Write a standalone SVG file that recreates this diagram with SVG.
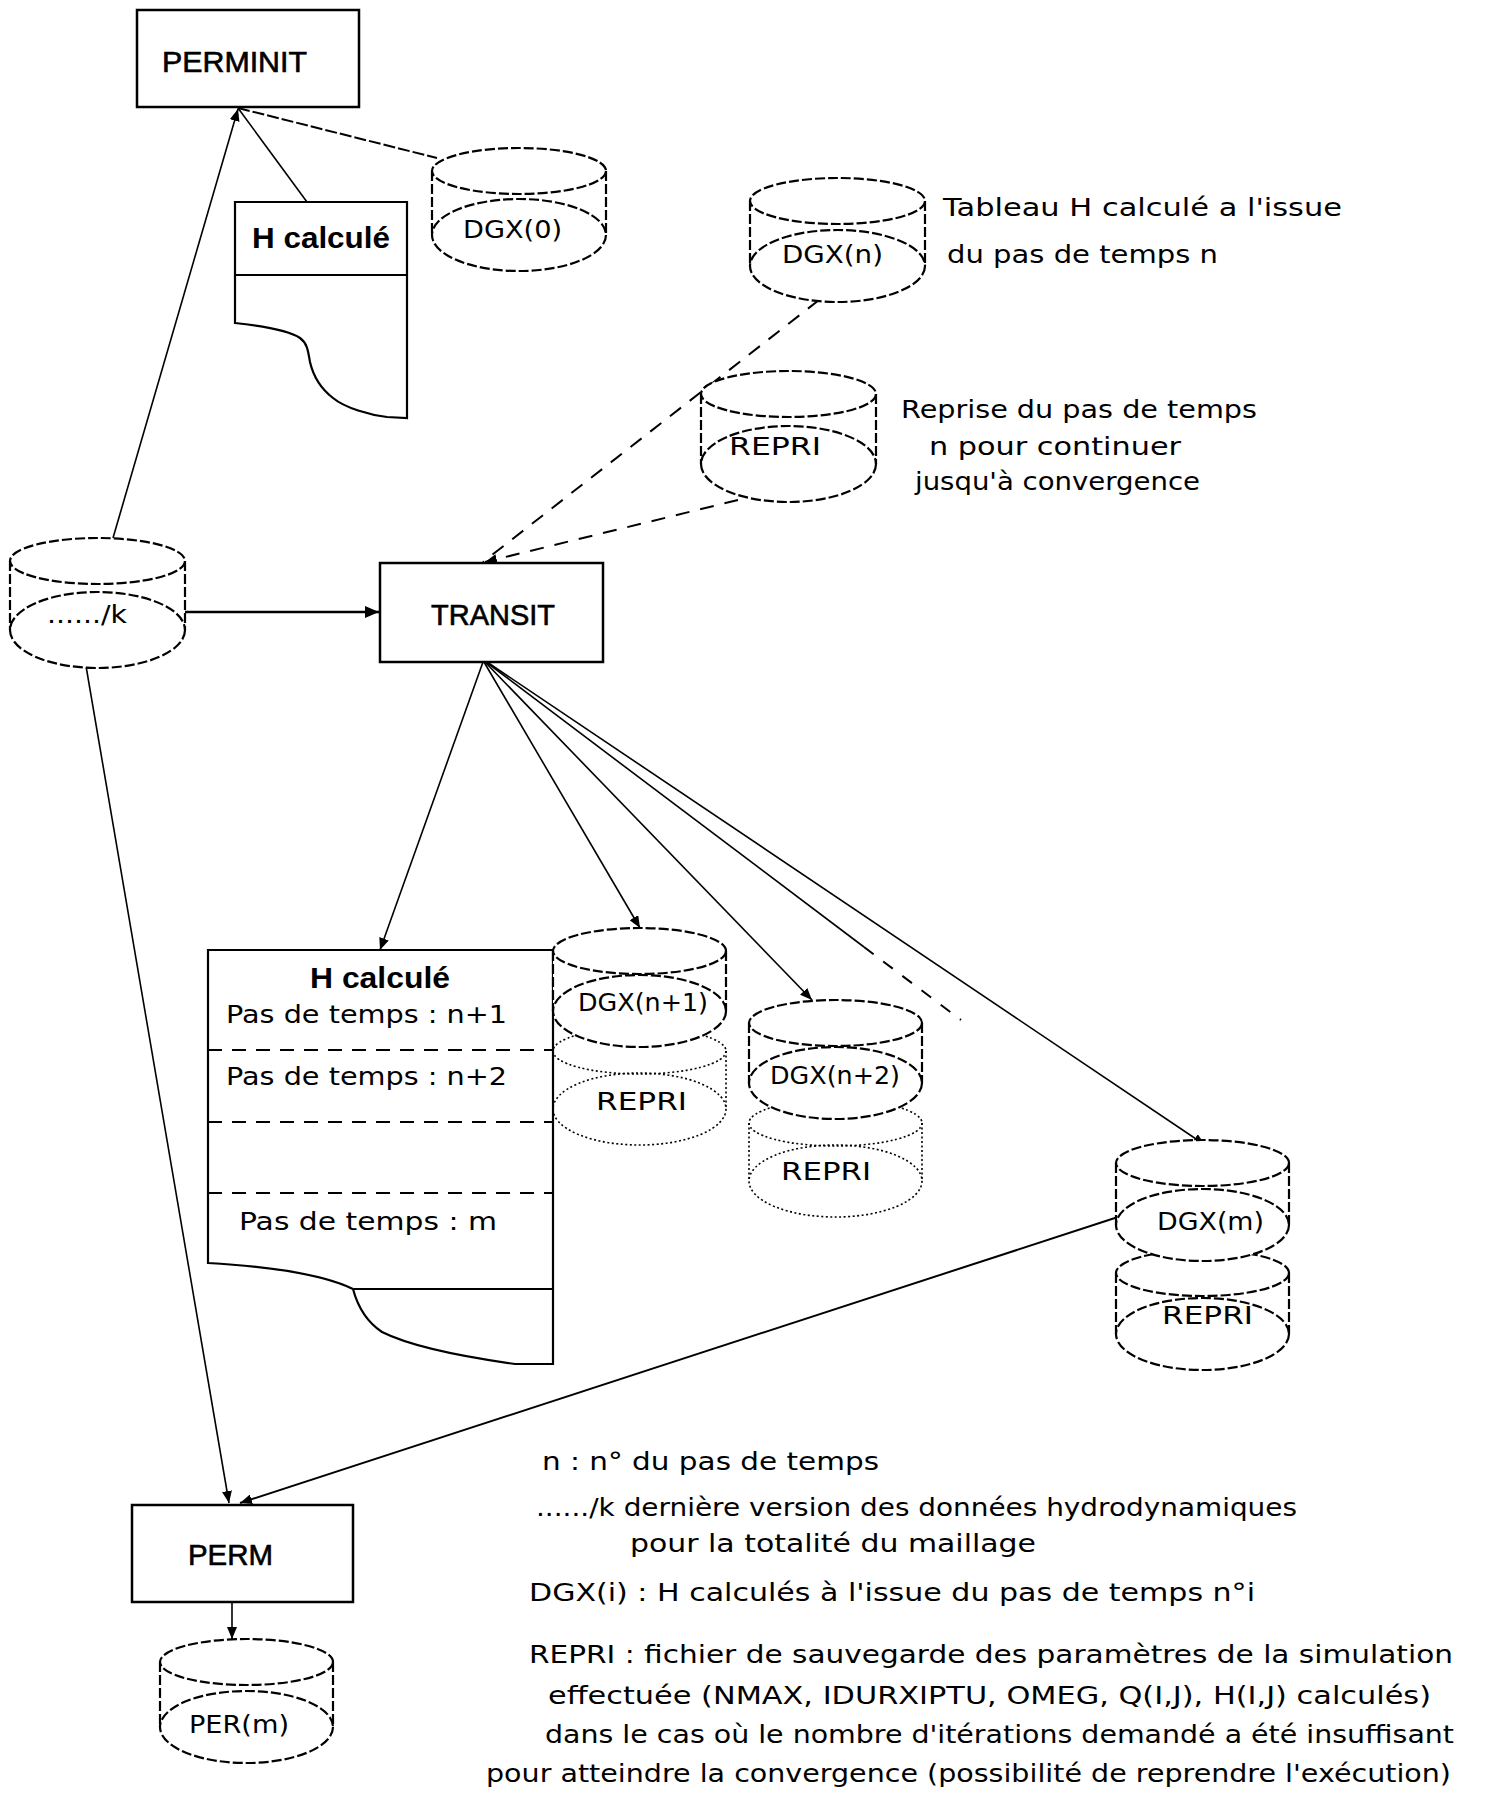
<svg xmlns="http://www.w3.org/2000/svg" width="1504" height="1812" viewBox="0 0 1504 1812">
<style>
  .bg{fill:#ffffff}
  .box{fill:#ffffff;stroke:#000;stroke-width:2.5}
  .doc{fill:#ffffff;stroke:#000;stroke-width:2.2}
  .sep{fill:none;stroke:#000;stroke-width:2;stroke-dasharray:14 10}
  .cyl{fill:none;stroke:#000;stroke-width:2.2;stroke-dasharray:10 3}
  .cyldot{fill:none;stroke:#000;stroke-width:1.6;stroke-dasharray:2 2.5}
  .cylfill{fill:#ffffff;stroke:none}
  .ln{fill:none;stroke:#000;stroke-width:1.6}
  .lnb{fill:none;stroke:#000;stroke-width:2.6}
  .dash{fill:none;stroke:#000;stroke-width:2;stroke-dasharray:14 11}
  .t{font-family:"DejaVu Sans","Liberation Sans",sans-serif;font-size:25px;fill:#000}
  .tb{font-family:"Liberation Sans","DejaVu Sans",sans-serif;font-size:29px;font-weight:bold;fill:#000}
  .tbox{font-family:"Liberation Sans","DejaVu Sans",sans-serif;font-size:29px;fill:#000;stroke:#000;stroke-width:0.6}
</style>
<defs>
  <marker id="arr" viewBox="0 0 12 10" refX="12" refY="5" markerWidth="12" markerHeight="10" markerUnits="userSpaceOnUse" orient="auto">
    <path d="M0,0 L12,5 L0,10 z" fill="#000"/>
  </marker>
  <marker id="arrb" viewBox="0 0 14 12" refX="14" refY="6" markerWidth="14" markerHeight="12" markerUnits="userSpaceOnUse" orient="auto">
    <path d="M0,0 L14,6 L0,12 z" fill="#000"/>
  </marker>
</defs>
<rect class="bg" x="0" y="0" width="1504" height="1812"/>

<g id="connectors">
  <line class="ln" x1="113" y1="538" x2="238" y2="109" marker-end="url(#arr)"/>
  <line class="ln" x1="238" y1="108" x2="307" y2="202"/>
  <line class="dash" x1="238" y1="108" x2="437" y2="158" style="stroke-dasharray:12 3"/>
  <line class="dash" x1="819" y1="300" x2="483" y2="562"/>
  <line class="dash" x1="738" y1="500" x2="485" y2="562" marker-end="url(#arr)"/>
  <line class="lnb" x1="185" y1="612" x2="379" y2="612" marker-end="url(#arrb)"/>
  <line class="ln" x1="86" y1="666" x2="229" y2="1503" marker-end="url(#arr)"/>
  <line class="ln" x1="483" y1="662" x2="380" y2="950" marker-end="url(#arr)"/>
  <line class="ln" x1="484" y1="662" x2="640" y2="928" marker-end="url(#arr)"/>
  <line class="ln" x1="485" y1="662" x2="812" y2="1000" marker-end="url(#arr)"/>
  <line class="ln" x1="486" y1="662" x2="864" y2="947"/>
  <line class="dash" x1="864" y1="947" x2="961" y2="1020" style="stroke-dasharray:12 12"/>
  <line class="ln" x1="487" y1="662" x2="1205" y2="1145" marker-end="url(#arr)"/>
  <line class="lnb" x1="1118" y1="1217" x2="240" y2="1503" marker-end="url(#arr)" style="stroke-width:2"/>
  <line class="ln" x1="232" y1="1602" x2="232" y2="1639" marker-end="url(#arr)"/>
</g>

<g id="perminit">
  <rect class="box" x="137" y="10" width="222" height="97"/>
  <text class="tbox" x="162" y="72" textLength="145" lengthAdjust="spacingAndGlyphs">PERMINIT</text>
</g>

<g id="hcalc-top">
  <path class="doc" d="M235,202 L407,202 L407,418 L387,417 C370,415 345,408 333,398 C320,388 313,375 310,362 C308,350 307,343 300,338 C290,331 262,326 235,323 Z"/>
  <line class="doc" x1="235" y1="275" x2="407" y2="275"/>
  <text class="tb" x="252" y="248" textLength="138" lengthAdjust="spacingAndGlyphs">H calculé</text>
</g>

<g id="dgx0">
  <path class="cylfill" d="M432,171 A87,23 0 0 1 606,171 L606,235 A87,36 0 0 1 432,235 Z"/>
  <ellipse class="cyl" cx="519" cy="171" rx="87" ry="23"/>
  <ellipse class="cyl" cx="519" cy="235" rx="87" ry="36"/>
  <line class="cyl" x1="432" y1="171" x2="432" y2="235"/>
  <line class="cyl" x1="606" y1="171" x2="606" y2="235"/>
  <text class="t" x="463" y="238" textLength="99" lengthAdjust="spacingAndGlyphs">DGX(0)</text>
</g>

<g id="dgxn">
  <path class="cylfill" d="M750,201 A87.5,23 0 0 1 925,201 L925,266 A87.5,36 0 0 1 750,266 Z"/>
  <ellipse class="cyl" cx="837.5" cy="201" rx="87.5" ry="23"/>
  <ellipse class="cyl" cx="837.5" cy="266" rx="87.5" ry="36"/>
  <line class="cyl" x1="750" y1="201" x2="750" y2="266"/>
  <line class="cyl" x1="925" y1="201" x2="925" y2="266"/>
  <text class="t" x="782" y="263" textLength="101" lengthAdjust="spacingAndGlyphs">DGX(n)</text>
</g>

<g id="note-dgxn">
  <text class="t" x="943" y="216" textLength="399" lengthAdjust="spacingAndGlyphs">Tableau H calculé a l'issue</text>
  <text class="t" x="947" y="263" textLength="271" lengthAdjust="spacingAndGlyphs">du pas de temps n</text>
</g>

<g id="repri-top">
  <path class="cylfill" d="M701,394 A87.5,23 0 0 1 876,394 L876,464 A87.5,38 0 0 1 701,464 Z"/>
  <ellipse class="cyl" cx="788.5" cy="394" rx="87.5" ry="23"/>
  <ellipse class="cyl" cx="788.5" cy="464" rx="87.5" ry="38"/>
  <line class="cyl" x1="701" y1="394" x2="701" y2="464"/>
  <line class="cyl" x1="876" y1="394" x2="876" y2="464"/>
  <text class="t" x="729" y="455" textLength="92" lengthAdjust="spacingAndGlyphs">REPRI</text>
</g>

<g id="note-repri">
  <text class="t" x="901" y="418" textLength="356" lengthAdjust="spacingAndGlyphs">Reprise du pas de temps</text>
  <text class="t" x="929" y="455" textLength="252" lengthAdjust="spacingAndGlyphs">n pour continuer</text>
  <text class="t" x="915" y="490" textLength="285" lengthAdjust="spacingAndGlyphs">jusqu'à convergence</text>
</g>

<g id="k">
  <path class="cylfill" d="M10,561 A87.5,23 0 0 1 185,561 L185,630 A87.5,38 0 0 1 10,630 Z"/>
  <ellipse class="cyl" cx="97.5" cy="561" rx="87.5" ry="23"/>
  <ellipse class="cyl" cx="97.5" cy="630" rx="87.5" ry="38"/>
  <line class="cyl" x1="10" y1="561" x2="10" y2="630"/>
  <line class="cyl" x1="185" y1="561" x2="185" y2="630"/>
  <text class="t" x="47" y="623" textLength="80" lengthAdjust="spacingAndGlyphs">....../k</text>
</g>

<g id="transit">
  <rect class="box" x="380" y="563" width="223" height="99"/>
  <text class="tbox" x="431" y="625" textLength="124" lengthAdjust="spacingAndGlyphs">TRANSIT</text>
</g>

<g id="hcalc-big">
  <path class="doc" d="M208,950 L553,950 L553,1364 L515,1364 C465,1357 412,1347 382,1332 C364,1320 357,1304 353,1289 C320,1273 260,1266 208,1263 Z"/>
  <line class="doc" x1="353" y1="1289" x2="553" y2="1289"/>
  <line class="sep" x1="208" y1="1050" x2="553" y2="1050"/>
  <line class="sep" x1="208" y1="1122" x2="553" y2="1122"/>
  <line class="sep" x1="208" y1="1193" x2="553" y2="1193"/>
  <text class="tb" x="310" y="988" textLength="140" lengthAdjust="spacingAndGlyphs">H calculé</text>
  <text class="t" x="226" y="1023" textLength="281" lengthAdjust="spacingAndGlyphs">Pas de temps : n+1</text>
  <text class="t" x="226" y="1085" textLength="281" lengthAdjust="spacingAndGlyphs">Pas de temps : n+2</text>
  <text class="t" x="239" y="1230" textLength="258" lengthAdjust="spacingAndGlyphs">Pas de temps : m</text>
</g>

<g id="repri-n1">
  <ellipse class="cyldot" cx="639.5" cy="1051" rx="86.5" ry="23"/>
  <ellipse class="cyldot" cx="639.5" cy="1109" rx="86.5" ry="36"/>
  <line class="cyldot" x1="553" y1="1051" x2="553" y2="1109"/>
  <line class="cyldot" x1="726" y1="1051" x2="726" y2="1109"/>
  <text class="t" x="596" y="1110" textLength="91" lengthAdjust="spacingAndGlyphs">REPRI</text>
</g>

<g id="dgx-n1">
  <path class="cylfill" d="M553,951 A86.5,23 0 0 1 726,951 L726,1011 A86.5,36 0 0 1 553,1011 Z"/>
  <ellipse class="cyl" cx="639.5" cy="951" rx="86.5" ry="23"/>
  <ellipse class="cyl" cx="639.5" cy="1011" rx="86.5" ry="36"/>
  <line class="cyl" x1="553" y1="951" x2="553" y2="1011"/>
  <line class="cyl" x1="726" y1="951" x2="726" y2="1011"/>
  <text class="t" x="578" y="1011" textLength="130" lengthAdjust="spacingAndGlyphs">DGX(n+1)</text>
</g>

<g id="repri-n2">
  <ellipse class="cyldot" cx="835.5" cy="1123" rx="86.5" ry="23"/>
  <ellipse class="cyldot" cx="835.5" cy="1181" rx="86.5" ry="36"/>
  <line class="cyldot" x1="749" y1="1123" x2="749" y2="1181"/>
  <line class="cyldot" x1="922" y1="1123" x2="922" y2="1181"/>
  <text class="t" x="781" y="1180" textLength="90" lengthAdjust="spacingAndGlyphs">REPRI</text>
</g>

<g id="dgx-n2">
  <path class="cylfill" d="M749,1023 A86.5,23 0 0 1 922,1023 L922,1083 A86.5,36 0 0 1 749,1083 Z"/>
  <ellipse class="cyl" cx="835.5" cy="1023" rx="86.5" ry="23"/>
  <ellipse class="cyl" cx="835.5" cy="1083" rx="86.5" ry="36"/>
  <line class="cyl" x1="749" y1="1023" x2="749" y2="1083"/>
  <line class="cyl" x1="922" y1="1023" x2="922" y2="1083"/>
  <text class="t" x="770" y="1084" textLength="130" lengthAdjust="spacingAndGlyphs">DGX(n+2)</text>
</g>

<g id="repri-m">
  <path class="cylfill" d="M1116,1273 A86.5,23 0 0 1 1289,1273 L1289,1334 A86.5,36 0 0 1 1116,1334 Z"/>
  <ellipse class="cyl" cx="1202.5" cy="1273" rx="86.5" ry="23"/>
  <ellipse class="cyl" cx="1202.5" cy="1334" rx="86.5" ry="36"/>
  <line class="cyl" x1="1116" y1="1273" x2="1116" y2="1334"/>
  <line class="cyl" x1="1289" y1="1273" x2="1289" y2="1334"/>
  <text class="t" x="1162" y="1324" textLength="91" lengthAdjust="spacingAndGlyphs">REPRI</text>
</g>

<g id="dgx-m">
  <path class="cylfill" d="M1116,1163 A86.5,23 0 0 1 1289,1163 L1289,1225 A86.5,36 0 0 1 1116,1225 Z"/>
  <ellipse class="cyl" cx="1202.5" cy="1163" rx="86.5" ry="23"/>
  <ellipse class="cyl" cx="1202.5" cy="1225" rx="86.5" ry="36"/>
  <line class="cyl" x1="1116" y1="1163" x2="1116" y2="1225"/>
  <line class="cyl" x1="1289" y1="1163" x2="1289" y2="1225"/>
  <text class="t" x="1157" y="1230" textLength="107" lengthAdjust="spacingAndGlyphs">DGX(m)</text>
</g>

<g id="perm">
  <rect class="box" x="132" y="1505" width="221" height="97"/>
  <text class="tbox" x="188" y="1565" textLength="85" lengthAdjust="spacingAndGlyphs">PERM</text>
</g>

<g id="per-m">
  <path class="cylfill" d="M160,1662 A86.5,23 0 0 1 333,1662 L333,1727 A86.5,36 0 0 1 160,1727 Z"/>
  <ellipse class="cyl" cx="246.5" cy="1662" rx="86.5" ry="23"/>
  <ellipse class="cyl" cx="246.5" cy="1727" rx="86.5" ry="36"/>
  <line class="cyl" x1="160" y1="1662" x2="160" y2="1727"/>
  <line class="cyl" x1="333" y1="1662" x2="333" y2="1727"/>
  <text class="t" x="189" y="1733" textLength="100" lengthAdjust="spacingAndGlyphs">PER(m)</text>
</g>

<g id="legend">
  <text class="t" x="542" y="1470" textLength="337" lengthAdjust="spacingAndGlyphs">n : n° du pas de temps</text>
  <text class="t" x="536" y="1516" textLength="761" lengthAdjust="spacingAndGlyphs">....../k dernière version des données hydrodynamiques</text>
  <text class="t" x="630" y="1552" textLength="406" lengthAdjust="spacingAndGlyphs">pour la totalité du maillage</text>
  <text class="t" x="529" y="1601" textLength="726" lengthAdjust="spacingAndGlyphs">DGX(i) : H calculés à l'issue du pas de temps n°i</text>
  <text class="t" x="529" y="1663" textLength="924" lengthAdjust="spacingAndGlyphs">REPRI : fichier de sauvegarde des paramètres de la simulation</text>
  <text class="t" x="548" y="1704" textLength="883" lengthAdjust="spacingAndGlyphs">effectuée (NMAX, IDURXIPTU, OMEG, Q(I,J), H(I,J) calculés)</text>
  <text class="t" x="545" y="1743" textLength="909" lengthAdjust="spacingAndGlyphs">dans le cas où le nombre d'itérations demandé a été insuffisant</text>
  <text class="t" x="486" y="1782" textLength="965" lengthAdjust="spacingAndGlyphs">pour atteindre la convergence (possibilité de reprendre l'exécution)</text>
</g>
</svg>
